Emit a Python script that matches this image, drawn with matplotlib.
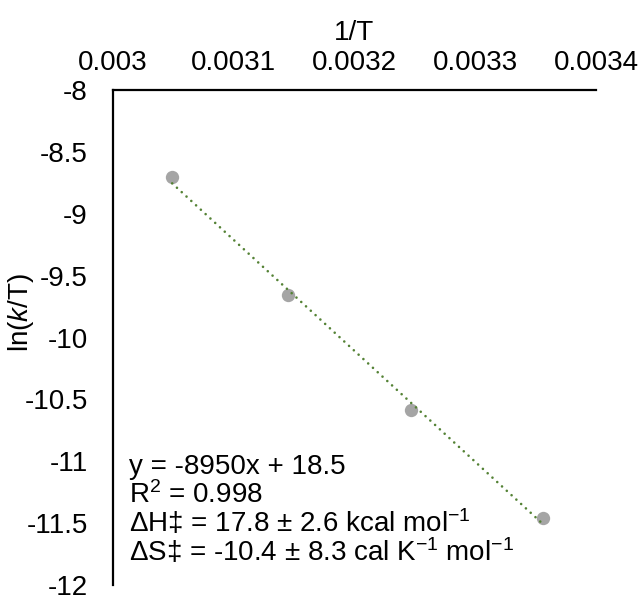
import numpy as np
import matplotlib
matplotlib.use("Agg")
import matplotlib.pyplot as plt

plt.rcParams['font.family'] = ['Liberation Sans', 'DejaVu Sans']
plt.rcParams['mathtext.fontset'] = 'custom'
plt.rcParams['mathtext.rm'] = 'Liberation Sans'
plt.rcParams['mathtext.it'] = 'Liberation Sans:italic'
plt.rcParams['mathtext.default'] = 'rm'

# Eyring data: reciprocal temperature (1/K) and ln(k/T)
inv_T = [0.003049, 0.003145, 0.003247, 0.003356]
ln_k_over_T = [-8.705, -9.657, -10.588, -11.456]

x_ticks = [0.003, 0.0031, 0.0032, 0.0033, 0.0034]
x_tick_labels = ["0.003", "0.0031", "0.0032", "0.0033", "0.0034"]
y_ticks = [-8, -8.5, -9, -9.5, -10, -10.5, -11, -11.5, -12]
y_tick_labels = ["-8", "-8.5", "-9", "-9.5", "-10", "-10.5", "-11", "-11.5", "-12"]

fit_lines = [
    "y = -8950x + 18.5",
    "R$^{2}$ = 0.998",
    "\u0394H\u2021 = 17.8 \u00b1 2.6 kcal mol$^{-1}$",
    "\u0394S\u2021 = -10.4 \u00b1 8.3 cal K$^{-1}$ mol$^{-1}$",
]

FS = 20
W, H = 641, 596
fig = plt.figure(figsize=(W / 100, H / 100), dpi=100)
left, right, top, bottom = 113, 596, 90, 585
ax = fig.add_axes([left / W, 1 - bottom / H, (right - left) / W, (bottom - top) / H])

x = np.array(inv_T)
y = np.array(ln_k_over_T)

# linear trendline over the data range
slope, intercept = np.polyfit(x, y, 1)
xl = np.array([x.min(), x.max()])
ax.plot(xl, slope * xl + intercept, color='#548235', lw=1.9,
        linestyle=(0, (0.01, 2.45)), dash_capstyle='round', zorder=3)

ax.plot(x, y, 'o', color='#A5A5A5', markersize=9.6, markeredgewidth=0, zorder=2)

ax.set_xlim(0.003, 0.0034)
ax.set_ylim(-12, -8)
ax.set_xticks(x_ticks)
ax.set_xticklabels(x_tick_labels)
ax.set_yticks(y_ticks)
ax.set_yticklabels(y_tick_labels)

for s in ['right', 'bottom']:
    ax.spines[s].set_visible(False)
for s in ['left', 'top']:
    ax.spines[s].set_linewidth(1.6)
    ax.spines[s].set_color('black')

ax.xaxis.tick_top()
ax.tick_params(axis='both', length=0, labelsize=FS, colors='black')
ax.tick_params(axis='x', pad=10)
ax.tick_params(axis='y', pad=18)

# axis titles
fig.text((left + right) / 2 / W, 1 - 40 / H, "1/T", fontsize=FS,
         ha='center', va='baseline')
fig.text(21 / W, 1 - 312 / H, "ln($\\it{k}$/T)", fontsize=FS,
         rotation=90, ha='center', va='center')

# regression summary
baselines = [-11.103, -11.337, -11.572, -11.806]
for line, yy in zip(fit_lines, baselines):
    ax.text(0.0030133, yy, line, fontsize=FS, va='baseline', ha='left')

fig.savefig("out.png", dpi=100, facecolor='white')
